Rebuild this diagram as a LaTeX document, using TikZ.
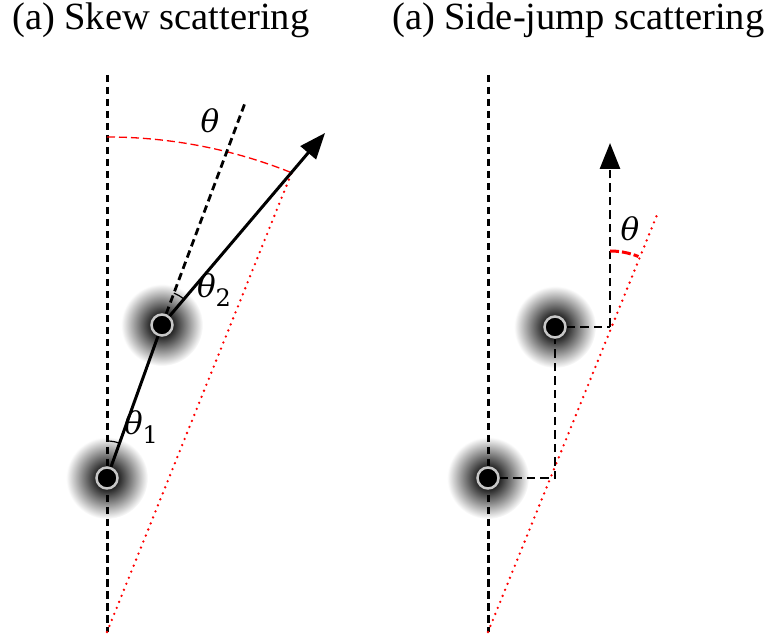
\documentclass[tikz,border=0pt]{standalone}
\usepackage{fontspec}
\setmainfont{Liberation Serif}
\newfontfamily\thfont{DejaVu Serif}
\usetikzlibrary{arrows.meta}
\pgfdeclareradialshading{glowsh}{\pgfpoint{0bp}{0bp}}{color(0bp)=(black); color(6bp)=(black!90); color(25bp)=(white); color(50bp)=(white)}
\newcommand{\thl}[1]{{\thfont\itshape θ}\raisebox{-0.3em}{\thfont\fontsize{24}{28}\selectfont #1}}
\begin{document}
\begin{tikzpicture}[x=1pt,y=1pt,
  axisline/.style={line width=3pt,dash pattern=on 7.5pt off 4.5pt},
  pathdash/.style={line width=2.6pt,dash pattern=on 8.5pt off 5pt},
  reddot/.style={red,line width=2.6pt,dash pattern=on 0pt off 6.5pt,line cap=round},
  redarc/.style={red,line width=1.3pt,dash pattern=on 8pt off 4pt},
  glow/.style={shading=glowsh},
  imp/.style={circle,fill=black,draw=black!22,line width=2.5pt,minimum size=21pt,inner sep=0pt},
  ttl/.style={anchor=base west,inner sep=0pt,font=\fontsize{38.5}{44}\selectfont},
  ang/.style={inner sep=0pt,font=\fontsize{31}{36}\selectfont},
  tip/.style={-{Triangle[length=26pt,width=20pt]}}
]
\useasboundingbox (0,0) rectangle (774,643);
% titles
\node[ttl] (t1) at (12,613) {(a) Skew scattering};
\node[ttl] (t2) at (392,613) {(a) Side-jump scattering};

% ---------- left panel ----------
\coordinate (Ltop) at (107,568);
\coordinate (Lbot) at (107,11);
\coordinate (Lext) at (245,540);
\coordinate (Ltip) at (325,510);
\coordinate (Larc) at (107,506);
\coordinate (Lred) at (292,471);
\shade[glow] (107,165) circle (41);
\shade[glow] (162,318) circle (41);
\draw[axisline] (Ltop) -- (Lbot);
\draw[reddot] (Lbot) -- (Lred);
\draw[redarc] (Larc) arc[start angle=90,end angle=68.1,radius=495];
\node[imp] (L1) at (107,165) {};
\node[imp] (L2) at (162,318) {};
\draw[axisline,line width=2.8pt] (L2.center) ++(69.5:12) coordinate (Lx) -- (Lext);
\draw[line width=3pt] (L1) -- (L2);
\draw[line width=3pt,tip] (L2) -- (Ltip);
% angle marks
\draw[line width=1.2pt] (L2.center) ++(69.5:34) arc[start angle=69.5,end angle=49.7,radius=34];
\draw[line width=1.2pt] (L1.center) ++(90:37) arc[start angle=90,end angle=70.2,radius=37];
\node[ang] (th) at (210,518) {\thl{}};
\node[ang] (th2) at (214,353) {\thl{2}};
\node[ang] (th1) at (141,216) {\thl{1}};

% ---------- right panel ----------
\coordinate (Rtop) at (488,568);
\coordinate (Rbot) at (488,11);
\coordinate (C1) at (555,165);
\coordinate (C2) at (610,316);
\coordinate (Rtip) at (610,500);
\coordinate (Rred) at (657,428);
\shade[glow] (488,165) circle (41);
\shade[glow] (555,316) circle (41);
\draw[axisline] (Rtop) -- (Rbot);
\draw[reddot] (Rbot) -- (Rred);
\node[imp] (R1) at (488,165) {};
\node[imp] (R2) at (555,316) {};
\draw[pathdash] (R1) -- (C1) -- (R2);
\draw[pathdash] (R2) -- (C2);
\draw[pathdash,tip] (C2) -- (Rtip);
\draw[red,line width=3pt,dash pattern=on 9pt off 3pt] (610,392) arc[start angle=90,end angle=68,radius=76];
\node[ang] (thR) at (630,410) {\thl{}};
\end{tikzpicture}
\end{document}
